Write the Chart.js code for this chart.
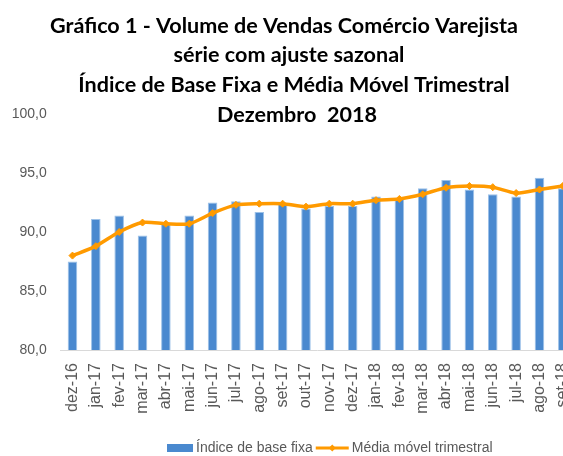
<!DOCTYPE html>
<html><head><meta charset="utf-8">
<script src="https://cdn.jsdelivr.net/npm/chart.js@4.4.1/dist/chart.umd.min.js"></script>
<style>
html,body{margin:0;padding:0;overflow:hidden;background:#fff;width:563px;height:456px}
#wrap{position:relative;width:580px;height:456px}
canvas{display:block}
</style></head>
<body><div id="wrap"><canvas id="c" width="580" height="456" style="width:580px;height:456px"></canvas></div>
<script>
const categories = ['dez-16','jan-17','fev-17','mar-17','abr-17','mai-17','jun-17','jul-17','ago-17','set-17','out-17','nov-17','dez-17','jan-18','fev-18','mar-18','abr-18','mai-18','jun-18','jul-18','ago-18','set-18'];
const indiceBaseFixa = [87.5,91.1,91.4,89.7,90.7,91.4,92.5,92.6,91.7,92.4,92.0,92.2,92.2,93.0,92.85,93.7,94.4,93.6,93.2,93.0,94.6,93.7];
const mediaMovel = [88.0,88.8,90.0,90.8,90.7,90.7,91.6,92.3,92.4,92.4,92.15,92.4,92.4,92.7,92.8,93.2,93.75,93.9,93.8,93.3,93.6,93.9];
const yTicks = [80,85,90,95,100];
const seriesNames = ['Índice de base fixa','Média móvel trimestral'];
const titleLines = ['Gráfico 1 - Volume de Vendas Comércio Varejista','série com ajuste sazonal','Índice de Base Fixa e Média Móvel Trimestral','Dezembro  2018'];

const BLUE = '#4A89CF', ORANGE = '#FF9A00', GRAY = '#595959';
const FONT = '"Liberation Sans", Arial, sans-serif';
const TFONT = 'Lato, "Liberation Sans", sans-serif';

const titlePlugin = {
  id: 'customTitle',
  afterDraw(chart) {
    const ctx = chart.ctx;
    ctx.save();
    ctx.font = 'bold 20px ' + TFONT;
    const w = ctx.measureText(titleLines[0]).width;
    const size = 20 * 468 / w;
    ctx.font = 'bold ' + size.toFixed(2) + 'px ' + TFONT;
    ctx.fillStyle = '#000';
    ctx.textAlign = 'center';
    ctx.textBaseline = 'middle';
    const cx = [284, 289, 294, 297];
    const cy = [26, 55, 85, 115];
    titleLines.forEach((t, i) => ctx.fillText(t, cx[i], cy[i]));
    ctx.restore();
  }
};

const legendPlugin = {
  id: 'customLegend',
  afterDraw(chart) {
    const ctx = chart.ctx;
    ctx.save();
    ctx.font = '14px ' + FONT;
    ctx.textBaseline = 'middle';
    ctx.textAlign = 'left';
    const y = 448;
    let x = 167;
    ctx.fillStyle = BLUE;
    ctx.fillRect(x, y - 4, 26, 8);
    x += 29;
    ctx.fillStyle = GRAY;
    ctx.fillText(seriesNames[0], x, y);
    x += ctx.measureText(seriesNames[0]).width + 3;
    ctx.strokeStyle = ORANGE;
    ctx.lineWidth = 3;
    ctx.beginPath(); ctx.moveTo(x, y); ctx.lineTo(x + 33, y); ctx.stroke();
    ctx.fillStyle = ORANGE;
    ctx.beginPath();
    ctx.moveTo(x + 16.5, y - 3.5); ctx.lineTo(x + 20, y); ctx.lineTo(x + 16.5, y + 3.5); ctx.lineTo(x + 13, y); ctx.closePath(); ctx.fill();
    x += 36;
    ctx.fillStyle = GRAY;
    ctx.fillText(seriesNames[1], x, y);
    ctx.restore();
  }
};

new Chart(document.getElementById('c'), {
  data: {
    labels: categories,
    datasets: [
      {
        type: 'line', label: seriesNames[1], data: mediaMovel, order: 0,
        borderColor: ORANGE, backgroundColor: ORANGE, borderWidth: 3.5,
        tension: 0.25, pointStyle: 'rectRot', pointRadius: 3.5,
        pointBackgroundColor: ORANGE, pointBorderColor: ORANGE, pointBorderWidth: 1
      },
      {
        type: 'bar', label: seriesNames[0], data: indiceBaseFixa, order: 1,
        backgroundColor: BLUE, borderColor: '#9CC1E8', borderWidth: 1,
        barPercentage: 0.41, categoryPercentage: 1.0
      }
    ]
  },
  options: {
    responsive: false, animation: false,
    layout: { padding: { top: 114, left: 0, right: 5.5, bottom: 0 } },
    plugins: { legend: { display: false }, title: { display: false }, tooltip: { enabled: false } },
    scales: {
      x: {
        grid: { display: false, drawTicks: false },
        border: { display: true, color: '#D9D9D9', width: 1 },
        ticks: { color: GRAY, font: { family: FONT, size: 16 }, minRotation: 90, maxRotation: 90, autoSkip: false, padding: 13 },
        afterFit(s) { s.height = 106; s.paddingLeft = 0; s.paddingRight = 0; }
      },
      y: {
        min: 80, max: 100,
        afterBuildTicks(s) { s.ticks = yTicks.map(v => ({ value: v })); },
        grid: { display: false, drawTicks: false },
        border: { display: false },
        ticks: { color: GRAY, font: { family: FONT, size: 14 }, padding: 14,
          callback: v => v.toFixed(1).replace('.', ',') },
        afterFit(s) { s.width = 60.8; s.paddingTop = 0; s.paddingBottom = 0; }
      }
    }
  },
  plugins: [titlePlugin, legendPlugin]
});
</script>
</body></html>
